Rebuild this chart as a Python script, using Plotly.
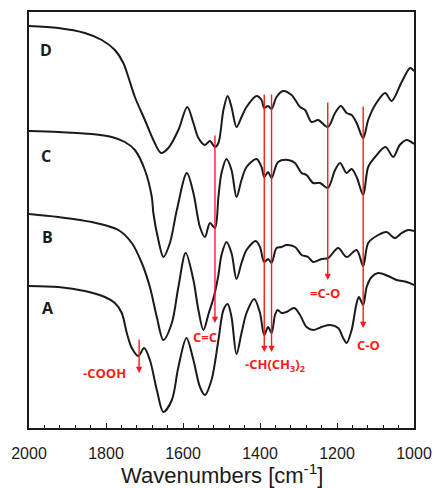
import plotly.graph_objects as go

# ---------------- data ----------------
wn_D = [2000, 1924, 1855, 1811, 1777, 1755, 1742, 1725, 1699, 1677, 1657, 1638, 1612, 1589, 1573, 1560,
        1543, 1530, 1517, 1508, 1495, 1484, 1474, 1461, 1448, 1435, 1409, 1396, 1389, 1379, 1370, 1357,
        1340, 1318, 1296, 1283, 1266, 1249, 1224, 1205, 1190, 1175, 1162, 1149, 1132, 1119, 1101, 1075,
        1058, 1032, 1010, 1000]
T_D = [402, 400, 395, 388, 378, 365, 351, 331, 308, 288, 275, 280, 298, 321, 305, 290,
       283, 287, 281, 285, 318, 332, 321, 301, 311, 321, 332, 328, 320, 322, 319, 331,
       337, 333, 321, 318, 306, 308, 301, 315, 322, 315, 313, 305, 290, 308, 323, 335,
       327, 346, 360, 357]

wn_C = [2000, 1924, 1837, 1785, 1751, 1725, 1699, 1681, 1677, 1664, 1651, 1634, 1616, 1590, 1573, 1556,
        1543, 1530, 1517, 1508, 1500, 1487, 1474, 1461, 1448, 1435, 1409, 1396, 1389, 1379, 1370, 1353,
        1327, 1309, 1292, 1279, 1262, 1244, 1224, 1205, 1192, 1175, 1162, 1149, 1132, 1119, 1101, 1074,
        1054, 1037, 1019, 1000]
T_C = [297, 296, 294, 291, 286, 278, 258, 231, 215, 188, 171, 185, 218, 255, 235, 201,
       191, 205, 200, 231, 255, 269, 258, 231, 248, 261, 269, 261, 251, 256, 250, 266,
       268, 265, 255, 253, 245, 245, 240, 258, 265, 255, 259, 251, 233, 261, 271, 281,
       271, 283, 288, 284]

wn_B = [2000, 1924, 1837, 1768, 1733, 1707, 1686, 1668, 1651, 1629, 1612, 1593, 1573, 1560, 1547, 1533,
        1520, 1508, 1500, 1487, 1474, 1461, 1448, 1435, 1411, 1400, 1389, 1379, 1370, 1357, 1344, 1331,
        1309, 1292, 1275, 1262, 1240, 1223, 1197, 1175, 1149, 1132, 1119, 1093, 1071, 1050, 1032, 1015,
        1000]
T_B = [214, 211, 206, 198, 185, 165, 141, 111, 88, 105, 141, 175, 148, 118, 98, 115,
       131, 153, 173, 186, 175, 149, 165, 178, 187, 181, 166, 169, 165, 180, 181, 183,
       181, 173, 171, 166, 169, 170, 180, 171, 178, 162, 185, 193, 196, 190, 195, 198,
       197]

wn_A = [2000, 1924, 1855, 1803, 1777, 1759, 1746, 1733, 1716, 1701, 1686, 1668, 1651, 1629, 1612, 1591,
        1573, 1556, 1543, 1526, 1508, 1495, 1484, 1474, 1461, 1448, 1435, 1415, 1400, 1389, 1379, 1370,
        1361, 1354, 1344, 1331, 1311, 1296, 1279, 1262, 1240, 1218, 1197, 1184, 1175, 1162, 1149, 1143,
        1132, 1123, 1110, 1093, 1067, 1045, 1019, 1000]
T_A = [142, 141, 137, 131, 125, 115, 95, 80, 72, 80, 68, 38, 16, 28, 61, 90,
       68, 41, 33, 48, 88, 118, 124, 111, 74, 95, 115, 129, 115, 93, 101, 95,
       113, 118, 115, 116, 120, 113, 101, 98, 101, 103, 100, 90, 85, 98, 125, 131,
       123, 141, 151, 155, 152, 148, 146, 143]

series_names = ["A", "B", "C", "D"]
label_wn = [1951, 1951, 1956, 1956]
label_T = [120, 191, 272, 378]

# band assignments: wavenumber, arrow top, arrow tip
band_wn = [1714, 1517, 1389, 1370, 1224, 1132]
band_top = [90, 294, 335, 335, 327, 323]
band_tip = [55, 105, 76, 76, 148, 100]

band_text = ["-COOH", "C=C", "-CH(CH<sub>3</sub>)<sub>2</sub>", "=C-O", "C-O"]
band_text_wn = [1804, 1543, 1361, 1231, 1119]
band_text_T = [55, 91, 63, 135, 83]

# ---------------- figure ----------------
fig = go.Figure()
curves = [(wn_A, T_A), (wn_B, T_B), (wn_C, T_C), (wn_D, T_D)]
for name, (xs, ys) in zip(series_names, curves):
    fig.add_trace(go.Scatter(x=xs, y=ys, mode="lines", name=name,
                             line=dict(color="#1a1a1a", width=2, shape="spline", smoothing=0.9),
                             showlegend=False, hoverinfo="skip"))

red = "#ff1a1a"
for x, top, tip in zip(band_wn, band_top, band_tip):
    fig.add_annotation(x=x, y=tip, ax=x, ay=top, xref="x", yref="y", axref="x", ayref="y",
                       showarrow=True, arrowhead=2, arrowsize=0.9, arrowwidth=1.4,
                       arrowcolor=red, text="")

for t, x, y in zip(band_text, band_text_wn, band_text_T):
    fig.add_annotation(x=x, y=y, xref="x", yref="y", text="<b>" + t + "</b>", showarrow=False,
                       font=dict(family="Open Sans", size=13, color=red, weight="bold"),
                       xanchor="center", yanchor="middle")

for t, x, y in zip(series_names, label_wn, label_T):
    fig.add_annotation(x=x, y=y, xref="x", yref="y", text="<b>" + t + "</b>", showarrow=False,
                       font=dict(family="Open Sans", size=16, color="#1a1a1a", weight="bold"),
                       xanchor="center", yanchor="middle")

fig.add_annotation(x=0.5, y=-0.11, xref="paper", yref="paper", showarrow=False,
                   text="Wavenumbers [cm<sup>-1</sup>]", xanchor="center", yanchor="middle",
                   font=dict(family="Liberation Sans", size=22, color="#1a1a1a"))

fig.update_layout(
    width=435, height=488,
    margin=dict(l=29, r=21, t=12, b=60, autoexpand=False),
    paper_bgcolor="white", plot_bgcolor="white",
    xaxis=dict(range=[2000, 1000], tickmode="linear", tick0=1000, dtick=200, automargin=False,
               ticks="inside", ticklen=5, tickwidth=1.3, tickcolor="#1a1a1a",
               minor=dict(dtick=40, ticks="inside", ticklen=3, tickwidth=1.3, tickcolor="#1a1a1a"),
               showline=True, mirror=True, linecolor="#1a1a1a", linewidth=2,
               showgrid=False, zeroline=False, ticklabelstandoff=10,
               tickfont=dict(family="Liberation Sans", size=16, color="#1a1a1a")),
    yaxis=dict(range=[0, 416], showticklabels=False, ticks="", showline=True, mirror=True,
               automargin=False,
               linecolor="#1a1a1a", linewidth=2, showgrid=False, zeroline=False),
)

fig.write_html("out.html")
